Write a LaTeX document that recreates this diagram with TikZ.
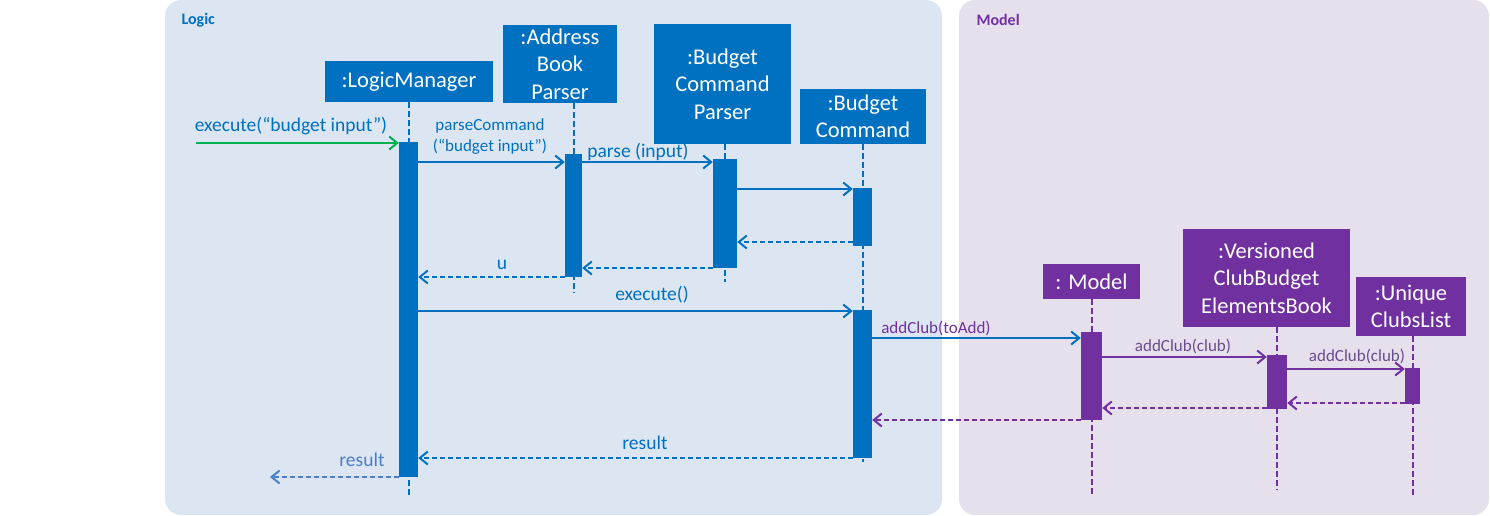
\documentclass[tikz,border=0pt]{standalone}
\usepackage{fontspec}
\setmainfont{Carlito}
\usepackage{xcolor}
\usepackage{tikz}
\usetikzlibrary{arrows.meta,positioning}
\definecolor{logicblue}{HTML}{0070C0}
\definecolor{modelpurple}{HTML}{7030A0}
\definecolor{clublabel}{HTML}{6A4C8C}
\definecolor{logicbg}{HTML}{DCE6F2}
\definecolor{modelbg}{HTML}{E6E0EC}
\definecolor{callgreen}{HTML}{00B050}
\definecolor{resultblue}{HTML}{4A7EC6}
\tikzset{
	object/.style={fill=#1, text=white, inner sep=0pt, align=center, font=\fontsize{22.5}{27.5}\selectfont},
	object/.default=logicblue,
	bar/.style={fill=#1, inner sep=0pt},
	bar/.default=logicblue,
	lifeline/.style={draw=#1, line width=2pt, dash pattern=on 6pt off 3pt},
	lifeline/.default=logicblue,
	call/.style={draw=#1, line width=2pt, -{Straight Barb[length=8pt,width=13pt,line width=2pt]}},
	call/.default=logicblue,
	reply/.style={call=#1, dash pattern=on 5pt off 3pt},
	reply/.default=logicblue,
	msg/.style={font=\fontsize{19.5}{22}\selectfont, text=#1, inner sep=0pt, align=center},
	msg/.default=logicblue,
	smallmsg/.style={font=\fontsize{17}{21}\selectfont, text=#1, inner sep=0pt, align=center},
	smallmsg/.default=logicblue
}

\begin{document}
\begin{tikzpicture}[x=1pt, y=-1pt]
	\useasboundingbox (0,0) rectangle (1490,515);
	\fill[logicbg, rounded corners=16pt] (165,0) rectangle (942,515);
	\fill[modelbg, rounded corners=16pt] (959,0) rectangle (1489,515);
	\node[anchor=west, font=\bfseries\fontsize{16}{18}\selectfont, text=logicblue] (logicTitle) at (178,20) {Logic};
	\node[anchor=west, font=\bfseries\fontsize{16}{18}\selectfont, text=modelpurple] (modelTitle) at (973,20) {Model};
	
	% objects
	\node[object, minimum width=168pt, minimum height=41pt] (lm) at (409,81.5) {:LogicManager};
	\node[object, minimum width=114pt, minimum height=78pt] (abp) at (560,64) {:Address\\Book\\Parser};
	\node[object, minimum width=137pt, minimum height=120pt] (bcp) at (722.5,84) {:Budget\\Command\\Parser};
	\node[object, minimum width=126pt, minimum height=55pt] (bc) at (863,116.5) {:Budget\\Command};
	\node[object=modelpurple, minimum width=97pt, minimum height=35pt] (model) at (1091.5,281.5) {: Model};
	\node[object=modelpurple, minimum width=167pt, minimum height=98pt] (vcb) at (1266.5,278) {:Versioned\\ClubBudget\\ElementsBook};
	\node[object=modelpurple, minimum width=110pt, minimum height=59pt] (ucl) at (1411,306.5) {:Unique\\ClubsList};
	
	% lifeline ends
	\coordinate (lmEnd) at (409,497);
	\coordinate (abpEnd) at (573.5,293);
	\coordinate (bcpEnd) at (725,282);
	\coordinate (bcEnd) at (862.5,462);
	\coordinate (modelEnd) at (1091.5,495);
	\coordinate (vcbEnd) at (1277,490);
	\coordinate (uclEnd) at (1412.5,497);
	\draw[lifeline] (lmEnd |- lm.south) -- (lmEnd);
	\draw[lifeline] (abpEnd |- abp.south) -- (abpEnd);
	\draw[lifeline] (bcpEnd |- bcp.south) -- (bcpEnd);
	\draw[lifeline] (bcEnd |- bc.south) -- (bcEnd);
	\draw[lifeline=modelpurple] (modelEnd |- model.south) -- (modelEnd);
	\draw[lifeline=modelpurple] (vcbEnd |- vcb.south) -- (vcbEnd);
	\draw[lifeline=modelpurple] (uclEnd |- ucl.south) -- (uclEnd);
	
	% activations
	\node[bar, minimum width=19pt, minimum height=335pt] (lmA) at (408.5,309.5) {};
	\node[bar, minimum width=17pt, minimum height=123pt] (abpA) at (573.5,215.5) {};
	\node[bar, minimum width=24pt, minimum height=109pt] (bcpA) at (725,213.5) {};
	\node[bar, minimum width=19pt, minimum height=58pt] (bcA) at (862.5,217) {};
	\node[bar, minimum width=19pt, minimum height=148pt] (bcB) at (862.5,384) {};
	\node[bar=modelpurple, minimum width=21pt, minimum height=88pt] (modelA) at (1091.5,376) {};
	\node[bar=modelpurple, minimum width=20pt, minimum height=54pt] (vcbA) at (1277,382) {};
	\node[bar=modelpurple, minimum width=15pt, minimum height=36pt] (uclA) at (1412.5,386) {};
	
	% messages
	\coordinate (userIn) at (196,143);
	\coordinate (userOut) at (270,477);
	\draw[call=callgreen] (userIn) -- (lmA.west |- userIn);
	\node[msg] (executeLbl) at (291,126) {execute(“budget input”)};
	\draw[call] (lmA.east |- 0,162) -- (abpA.west |- 0,162);
	\node[smallmsg] (parseCmdLbl) at (490,136.5) {parseCommand\\(“budget input”)};
	\draw[call] (abpA.east |- 0,162) -- (bcpA.west |- 0,162);
	\node[msg] (parseLbl) at (638,152) {parse (input)};
	\draw[call] (bcpA.east |- 0,189) -- (bcA.west |- 0,189);
	\draw[reply] (bcA.west |- 0,242) -- (bcpA.east |- 0,242);
	\draw[reply] (bcpA.west |- 0,268) -- (abpA.east |- 0,268);
	\draw[reply] (abpA.west |- 0,277) -- (lmA.east |- 0,277);
	\node[msg] (uLbl) at (502,265) {u};
	\draw[call] (lmA.east |- 0,311) -- (bcB.west |- 0,311);
	\node[msg] (executeCmdLbl) at (652,295) {execute()};
	\draw[call] (bcB.east |- 0,338) -- (modelA.west |- 0,338);
	\node[smallmsg=modelpurple] (toAddLbl) at (936,328) {addClub(toAdd)};
	\draw[call=modelpurple] (modelA.east |- 0,357) -- (vcbA.west |- 0,357);
	\node[smallmsg=clublabel] (clubLbl) at (1183,346) {addClub(club)};
	\draw[call=modelpurple] (vcbA.east |- 0,369) -- (uclA.west |- 0,369);
	\node[smallmsg=clublabel] (clubListLbl) at (1357,356) {addClub(club)};
	\draw[reply=modelpurple] (uclA.west |- 0,403) -- (vcbA.east |- 0,403);
	\draw[reply=modelpurple] (vcbA.west |- 0,408) -- (modelA.east |- 0,408);
	\draw[reply=modelpurple] (modelA.west |- 0,420) -- (bcB.east |- 0,420);
	\draw[reply] (bcB.west |- 0,458) -- (lmA.east |- 0,458);
	\node[msg] (resultLbl) at (645,443) {result};
	\draw[reply=resultblue] (lmA.west |- userOut) -- (userOut);
	\node[msg=resultblue] (resultOutLbl) at (362,460) {result};
	
\end{tikzpicture}
\end{document}
